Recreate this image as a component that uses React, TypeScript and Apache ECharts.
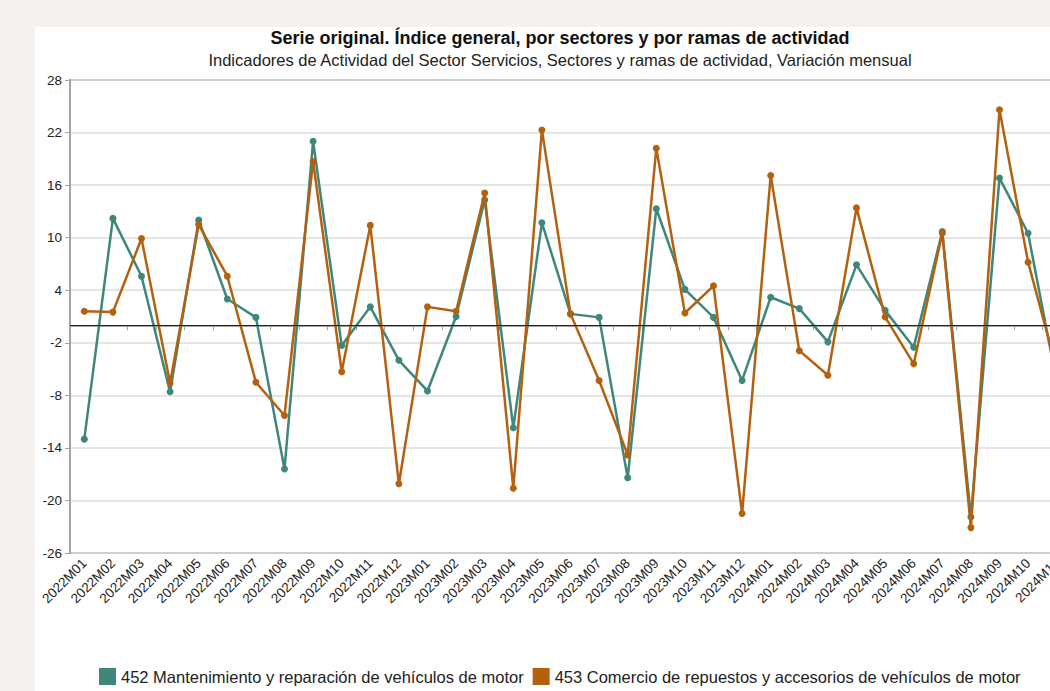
import React, { useEffect, useRef } from "react";
import * as echarts from "echarts";

const categories = [
  "2022M01", "2022M02", "2022M03", "2022M04", "2022M05", "2022M06", "2022M07", "2022M08", "2022M09", "2022M10", "2022M11", "2022M12",
  "2023M01", "2023M02", "2023M03", "2023M04", "2023M05", "2023M06", "2023M07", "2023M08", "2023M09", "2023M10", "2023M11", "2023M12",
  "2024M01", "2024M02", "2024M03", "2024M04", "2024M05", "2024M06", "2024M07", "2024M08", "2024M09", "2024M10", "2024M11",
];

const mantenimiento452 = [
  -13.0, 12.2, 5.6, -7.6, 12.0, 3.0, 0.9, -16.4, 21.0, -2.3, 2.1, -4.0,
  -7.5, 1.0, 14.3, -11.7, 11.7, 1.3, 0.9, -17.4, 13.3, 4.1, 0.9, -6.3,
  3.2, 1.9, -1.9, 6.9, 1.7, -2.5, 10.7, -21.9, 16.8, 10.5, -6.5,
];

const comercio453 = [
  1.6, 1.5, 9.9, -6.6, 11.5, 5.6, -6.5, -10.3, 18.7, -5.3, 11.4, -18.1,
  2.1, 1.6, 15.1, -18.6, 22.3, 1.3, -6.3, -14.8, 20.2, 1.4, 4.5, -21.5,
  17.1, -2.9, -5.7, 13.4, 0.95, -4.4, 10.5, -23.1, 24.6, 7.2, -5.0,
];

const seriesNames = [
  "452 Mantenimiento y reparación de vehículos de motor",
  "453 Comercio de repuestos y accesorios de vehículos de motor",
];

const titleText = "Serie original. Índice general, por sectores y por ramas de actividad";
const subtitleText = "Indicadores de Actividad del Sector Servicios, Sectores y ramas de actividad, Variación mensual";

const TEAL = "#3f867b";
const ORANGE = "#b4610f";
const FONT = "'Liberation Sans', Arial, Helvetica, sans-serif";

export default function App() {
  const ref = useRef<HTMLDivElement>(null);

  useEffect(() => {
    if (!ref.current) return;
    const chart = echarts.init(ref.current, undefined, { renderer: "svg" });
    chart.setOption({
      animation: false,
      backgroundColor: "#ffffff",
      textStyle: { fontFamily: FONT },
      title: [
        {
          text: titleText,
          left: "center",
          top: 2,
          padding: 0,
          textStyle: { fontSize: 18, fontWeight: "bold", color: "#111", fontFamily: FONT },
        },
        {
          text: subtitleText,
          left: "center",
          top: 24,
          padding: 0,
          textStyle: { fontSize: 16.5, fontWeight: "normal", color: "#222", fontFamily: FONT },
        },
      ],
      legend: {
        data: seriesNames,
        left: 59,
        top: 636,
        icon: "rect",
        itemWidth: 17,
        itemHeight: 17,
        itemGap: 9,
        textStyle: { fontSize: 16.5, color: "#222", fontFamily: FONT },
      },
      grid: {
        left: 35,
        right: 14,
        top: 53,
        bottom: 138,
        show: true,
        borderColor: "#a3a3a3",
        borderWidth: 2,
        backgroundColor: "transparent",
      },
      xAxis: {
        type: "category",
        data: categories,
        boundaryGap: true,
        axisLine: { show: true, lineStyle: { color: "#a3a3a3", width: 2 } },
        axisTick: { show: true, alignWithLabel: false, length: 5, lineStyle: { color: "#a3a3a3" } },
        axisLabel: { rotate: 45, fontSize: 13.5, color: "#222", margin: 8, interval: 0, fontFamily: FONT },
        splitLine: { show: false },
      },
      yAxis: {
        type: "value",
        min: -26,
        max: 28,
        interval: 6,
        axisLine: { show: true, lineStyle: { color: "#a3a3a3", width: 2 } },
        axisTick: { show: true, length: 5, lineStyle: { color: "#a3a3a3" } },
        axisLabel: { fontSize: 13.5, color: "#222", margin: 8, fontFamily: FONT },
        splitLine: { show: true, lineStyle: { color: "#dcdcdc", width: 1.5 } },
      },
      series: [
        {
          name: seriesNames[0],
          type: "line",
          data: mantenimiento452,
          color: TEAL,
          symbol: "circle",
          symbolSize: 7,
          lineStyle: { width: 2.5, color: TEAL },
          itemStyle: { color: TEAL },
          z: 3,
          markLine: {
            silent: true,
            symbol: ["none", "none"],
            label: { show: false },
            lineStyle: { color: "#222", width: 1, type: "solid" },
            data: [{ yAxis: 0 }],
          },
        },
        {
          name: seriesNames[1],
          type: "line",
          data: comercio453,
          color: ORANGE,
          symbol: "circle",
          symbolSize: 7,
          lineStyle: { width: 2.5, color: ORANGE },
          itemStyle: { color: ORANGE },
          z: 4,
        },
      ],
    });
    return () => chart.dispose();
  }, []);

  return (
    <div
      style={{
        position: "fixed",
        left: 0,
        top: 0,
        width: 1050,
        height: 691,
        background: "#f4f1ee",
        overflow: "hidden",
      }}
    >
      <div
        ref={ref}
        style={{ position: "absolute", left: 35, top: 27, width: 1050, height: 664 }}
      />
    </div>
  );
}
